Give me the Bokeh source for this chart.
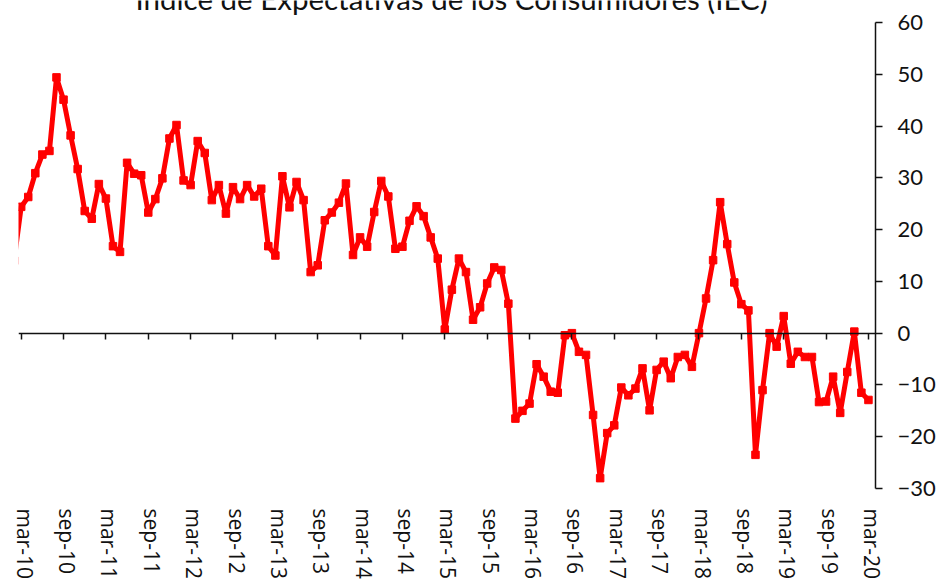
import numpy as np
from bokeh.plotting import figure
from bokeh.models import Range1d, FixedTicker, LinearAxis, Label, ColumnDataSource
from bokeh.embed import file_html
from bokeh.resources import INLINE

# Índice de Expectativas de los Consumidores (IEC), monthly, feb-10 .. mar-20
y2010 = [14.0, 24.4, 26.3, 30.9, 34.5, 35.2, 49.4, 45.1, 38.2, 31.7, 23.6]  # feb..dec
y2011 = [22.1, 28.8, 26.0, 16.8, 15.7, 32.9, 30.8, 30.5, 23.3, 25.9, 29.9, 37.6]
y2012 = [40.2, 29.5, 28.6, 37.1, 34.8, 25.7, 28.6, 23.1, 28.2, 25.9, 28.6, 26.4]
y2013 = [27.9, 16.8, 15.0, 30.3, 24.3, 29.2, 25.7, 11.8, 13.1, 21.8, 23.3, 25.2]
y2014 = [28.9, 15.1, 18.5, 16.7, 23.4, 29.4, 26.4, 16.3, 16.7, 21.7, 24.5, 22.6]
y2015 = [18.5, 14.4, 0.7, 8.4, 14.4, 11.8, 2.6, 5.0, 9.6, 12.7, 12.2, 5.7]
y2016 = [-16.5, -15.0, -13.6, -6.0, -8.4, -11.3, -11.5, -0.4, 0.0, -3.6, -4.2, -15.8]
y2017 = [-28.0, -19.3, -17.8, -10.5, -12.0, -10.7, -6.8, -14.9, -7.1, -5.5, -8.7, -4.6]
y2018 = [-4.2, -6.5, 0.0, 6.7, 14.1, 25.3, 17.2, 9.8, 5.6, 4.4, -23.5, -11.0]
y2019 = [0.0, -2.6, 3.3, -5.9, -3.6, -4.6, -4.6, -13.3, -13.2, -8.4, -15.4, -7.5]
y2020 = [0.3, -11.5, -12.9]  # jan..mar

tick_labels = ["mar-10", "sep-10", "mar-11", "sep-11", "mar-12", "sep-12", "mar-13",
               "sep-13", "mar-14", "sep-14", "mar-15", "sep-15", "mar-16", "sep-16",
               "mar-17", "sep-17", "mar-18", "sep-18", "mar-19", "sep-19", "mar-20"]
y_ticks = [-30, -20, -10, 0, 10, 20, 30, 40, 50, 60]

title_text = "Índice de Expectativas de los Consumidores (IEC)"

iec = y2010 + y2011 + y2012 + y2013 + y2014 + y2015 + y2016 + y2017 + y2018 + y2019 + y2020
month_idx = list(range(-1, len(iec) - 1))  # 0 = mar-10
src = ColumnDataSource(dict(x=month_idx, y=iec))

tick_pos = [6 * i for i in range(len(tick_labels))]
label_pos = [t + 0.5 for t in tick_pos]

RED = "#ff0000"
INK = "#111111"

p = figure(width=938, height=586, output_backend="svg", toolbar_location=None,
           x_range=Range1d(-0.38, 121.0), y_range=Range1d(-30, 64.25),
           y_axis_location="right",
           min_border_left=18, min_border_right=63, min_border_top=0, min_border_bottom=98)
p.outline_line_color = None
p.grid.visible = False
p.background_fill_color = "white"
p.border_fill_color = "white"

p.line("x", "y", source=src, line_color=RED, line_width=5, line_join="round")
p.scatter("x", "y", source=src, marker="square", size=7.5, fill_color=RED, line_color=RED)

# bottom axis: only the rotated labels
xa = p.xaxis[0]
xa.ticker = FixedTicker(ticks=label_pos, minor_ticks=[])
xa.major_label_overrides = {lp: lab for lp, lab in zip(label_pos, tick_labels)}
xa.major_label_orientation = "vertical"
xa.axis_line_color = None
xa.major_tick_line_color = None
xa.minor_tick_line_color = None
xa.major_tick_out = 0
xa.minor_tick_out = 0
xa.major_label_standoff = 20
xa.major_label_text_font = "Open Sans"
xa.major_label_text_font_size = "21px"
xa.major_label_text_color = INK

# zero line axis with tick marks (no labels)
za = LinearAxis(fixed_location=0, ticker=FixedTicker(ticks=tick_pos, minor_ticks=[]))
za.major_label_text_color = None
za.major_label_text_font_size = "0px"
za.major_label_standoff = 0
za.major_tick_in = 6
za.major_tick_out = 0
za.minor_tick_in = 0
za.minor_tick_out = 0
za.axis_line_color = INK
za.axis_line_width = 1.5
za.major_tick_line_color = INK
za.major_tick_line_width = 1.5
p.add_layout(za, "above")

# right value axis, line limited to -30..60
ya = p.yaxis[0]
ya.ticker = FixedTicker(ticks=y_ticks, minor_ticks=[])
ya.bounds = (-30, 60)
ya.axis_line_color = INK
ya.axis_line_width = 1.5
ya.major_tick_line_color = INK
ya.major_tick_line_width = 1.5
ya.major_tick_out = 7
ya.major_tick_in = 0
ya.minor_tick_out = 0
ya.minor_tick_in = 0
ya.major_label_standoff = 15
ya.major_label_text_font = "Lato"
ya.major_label_text_font_size = "22px"
ya.major_label_text_color = INK

p.add_layout(Label(x=60.95, y=62.32, y_offset=11.5, text=title_text, text_align="center",
                   text_baseline="alphabetic", text_font="Lato",
                   text_font_size="29.5px", text_color=INK))

open("out.html", "w").write(file_html(p, INLINE))
